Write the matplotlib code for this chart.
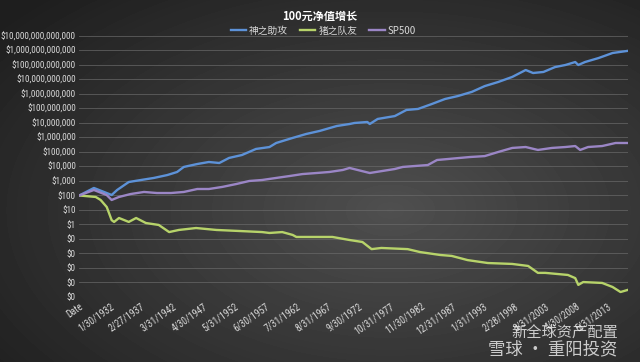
"""
plot.py — 100元净值增长: growth of 100 in three strategies, log scale.

Dark Excel-style chart, category x axis (monthly rows, labelled every 61 rows).
"""

import matplotlib

matplotlib.use("Agg")
import matplotlib.pyplot as plt
import numpy as np
from matplotlib import font_manager
from matplotlib.ticker import FixedLocator, FuncFormatter

# ---------------------------------------------------------------------------
# Data (x in decimal years)
# ---------------------------------------------------------------------------

series_names = ["神之助攻", "猪之队友", "SP500"]

god_years = [1927.0, 1929.4, 1932.3, 1933.2, 1935.1, 1937.1, 1939.2, 1941.4,
             1943.0, 1944.1, 1946.3, 1948.2, 1949.9, 1951.5, 1953.6, 1955.9,
             1958.1, 1959.2, 1961.9, 1964.1, 1966.3, 1969.1, 1971.2, 1972.0,
             1974.1, 1974.5, 1975.8, 1978.6, 1980.5, 1982.4, 1984.6, 1986.8,
             1988.9, 1991.2, 1993.3, 1995.5, 1997.8, 2000.0, 2001.2, 2002.9,
             2004.8, 2006.5, 2008.1, 2008.6, 2009.7, 2011.9, 2014.2, 2016.6]
god_values = [100, 330, 108, 240, 850, 1170, 1620, 2570,
              4170, 9300, 14800, 20400, 17400, 38900, 61700, 162000,
              219000, 417000, 933000, 1.74e6, 2.82e6, 6.17e6, 8.5e6, 1.0e7,
              1.17e7, 8.5e6, 1.9e7, 3.0e7, 7.9e7, 9.3e7, 2.0e8, 4.5e8,
              7.2e8, 1.4e9, 3.5e9, 6.7e9, 1.5e10, 4.5e10, 2.8e10, 3.3e10,
              7.2e10, 1.0e11, 1.6e11, 1.0e11, 1.6e11, 3.0e11, 6.7e11, 9.3e11]

pig_years = [1927.0, 1929.7, 1930.5, 1931.5, 1932.3, 1932.7, 1933.5, 1935.1,
             1936.3, 1937.9, 1940.0, 1941.7, 1943.3, 1946.1, 1949.4, 1953.2,
             1956.9, 1958.1, 1960.2, 1961.9, 1962.5, 1966.3, 1968.4, 1971.2,
             1973.3, 1974.8, 1976.4, 1980.7, 1982.7, 1986.0, 1987.9, 1990.5,
             1993.8, 1997.8, 2000.4, 2002.0, 2003.2, 2006.9, 2008.1, 2008.6,
             2009.4, 2012.5, 2014.2, 2015.5, 2016.6]
pig_values = [100, 79, 49, 16, 2.0, 1.5, 2.8, 1.5,
              2.8, 1.26, 0.93, 0.30, 0.42, 0.57, 0.42, 0.355,
              0.30, 0.26, 0.30, 0.19, 0.138, 0.138, 0.138, 0.085,
              0.062, 0.020, 0.024, 0.020, 0.0126, 0.0079, 0.0068, 0.0035,
              0.0022, 0.0019, 0.00138, 0.00046, 0.00046, 0.00033, 0.00020, 0.000068,
              0.000107, 0.000093, 0.000049, 0.000022, 0.00003]

sp_years = [1927.0, 1929.4, 1931.5, 1932.3, 1933.5, 1935.4, 1937.6, 1939.7,
            1942.0, 1944.1, 1946.3, 1948.2, 1950.4, 1952.7, 1954.8, 1956.9,
            1959.2, 1961.4, 1963.5, 1965.8, 1967.9, 1970.1, 1971.2, 1974.5,
            1978.6, 1979.9, 1984.0, 1985.5, 1990.9, 1993.3, 1995.5, 1997.8,
            2000.0, 2002.0, 2004.3, 2006.5, 2008.1, 2008.9, 2010.2, 2012.5,
            2014.7, 2016.6]
sp_values = [100, 240, 107, 49, 79, 126, 175, 148,
             148, 175, 280, 280, 390, 620, 1000, 1170,
             1620, 2200, 3000, 3550, 4170, 5750, 7900, 3550,
             6700, 9300, 12600, 28000, 45000, 52000, 100000, 190000,
             220000, 138000, 190000, 220000, 257000, 138000, 220000, 257000,
             417000, 417000]

x_tick_labels = ["Date", "1/30/1932", "2/27/1937", "3/31/1942", "4/30/1947",
                 "5/31/1952", "6/30/1957", "7/31/1962", "8/31/1967",
                 "9/30/1972", "10/31/1977", "11/30/1982", "12/31/1987",
                 "1/31/1993", "2/28/1998", "3/31/2003", "4/30/2008",
                 "5/31/2013"]

# ---------------------------------------------------------------------------
# Style
# ---------------------------------------------------------------------------

CJK = ["Noto Sans CJK SC", "DejaVu Sans"]
TEXT = "#d9d9d9"
GRID = "#6a6a6a"
COLORS = {"神之助攻": "#5d92d8", "猪之队友": "#b7d36a", "SP500": "#9b86c6"}

LABEL_STEP = 61  # Excel category axis shows every 61st row

# narrow face for tick labels, close to Calibri in the original
installed = {f.name for f in font_manager.fontManager.ttflist}
TICK_FONT = next((n for n in ["Liberation Sans Narrow", "Roboto Condensed",
                              "Open Sans", "DejaVu Sans"] if n in installed),
                 "DejaVu Sans")
narrow = "Narrow" in TICK_FONT or "Condensed" in TICK_FONT
Y_SIZE = 6.6 if narrow else 5.4
X_SIZE = 7.0 if narrow else 6.2


def year_to_row(years):
    """Spreadsheet row index: row 0 is the header, row 1 is Jan 1927."""
    return (np.asarray(years) - 1927.0) * 12 + 1


def dollar(v, _pos=None):
    # Excel "$#,##0" rounds anything below one to $0
    return f"${v:,.0f}" if v >= 1 else "$0"


fig = plt.figure(figsize=(6.4, 3.62), dpi=100)

# radial grey background
bg = fig.add_axes([0, 0, 1, 1], zorder=-10)
yy, xx = np.mgrid[0:362, 0:640]
r = np.hypot((xx - 390) / 500, (yy - 210) / 290)
shade = np.clip(0.31 - 0.19 * r, 0.12, 0.31)
bg.imshow(shade, cmap="gray", vmin=0, vmax=1, aspect="auto",
          extent=[0, 1, 0, 1], origin="upper")
bg.set_axis_off()

ax = fig.add_axes([0.123, 0.1796, 0.858, 0.721])
ax.set_facecolor("none")

ax.plot(year_to_row(god_years), god_values, color=COLORS["神之助攻"],
        lw=1.7, label="神之助攻", zorder=3)
ax.plot(year_to_row(pig_years), pig_values, color=COLORS["猪之队友"],
        lw=1.7, label="猪之队友", zorder=3)
ax.plot(year_to_row(sp_years), sp_values, color=COLORS["SP500"],
        lw=1.7, label="SP500", zorder=3)

ax.set_yscale("log")
ax.set_ylim(1e-5, 1e13)
ax.yaxis.set_major_locator(FixedLocator([10.0 ** k for k in range(-5, 14)]))
ax.yaxis.set_minor_locator(FixedLocator([]))
ax.yaxis.set_major_formatter(FuncFormatter(dollar))
ax.grid(axis="y", color=GRID, lw=0.6, alpha=0.8)

ax.set_xlim(0, year_to_row(2016.7))
ax.set_xticks(np.arange(len(x_tick_labels)) * LABEL_STEP)
ax.set_xticklabels(x_tick_labels, rotation=35, ha="right",
                   rotation_mode="anchor")

ax.tick_params(axis="both", length=0, colors=TEXT)
ax.tick_params(axis="y", labelsize=Y_SIZE, pad=2)
ax.tick_params(axis="x", labelsize=X_SIZE, pad=3)
for lbl in ax.get_xticklabels() + ax.get_yticklabels():
    lbl.set_family(TICK_FONT)
for spine in ax.spines.values():
    spine.set_visible(False)

fig.text(0.5, 0.955, "100元净值增长", ha="center", va="center",
         color="white", fontsize=8, fontweight="bold", family=CJK)
fig.legend(loc="center", bbox_to_anchor=(0.505, 0.915), ncol=3,
           frameon=False, labelcolor=TEXT, handlelength=1.6,
           handletextpad=0.3, columnspacing=1.2, prop={"family": CJK, "size": 7})

# watermark
fig.text(0.965, 0.083, "新全球资产配置", ha="right", va="center",
         color="white", alpha=0.75, fontsize=11, family=CJK)
fig.text(0.965, 0.035, "雪球 · 重阳投资", ha="right", va="center",
         color="white", alpha=0.75, fontsize=12.5, family=CJK)

fig.savefig("out.png", dpi=100)
